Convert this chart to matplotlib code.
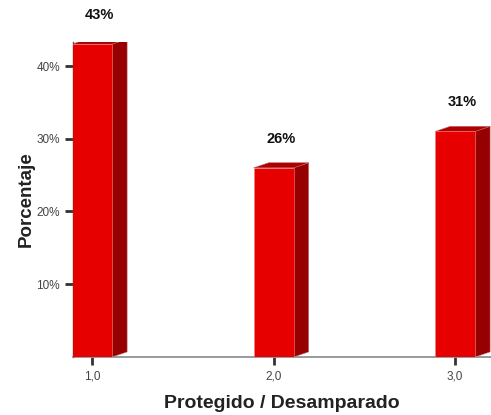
import matplotlib
matplotlib.use("Agg")
import matplotlib.pyplot as plt
from matplotlib.patches import Polygon, Rectangle

# datos
categorias = [1.0, 2.0, 3.0]
etiquetas_x = ["1,0", "2,0", "3,0"]
porcentajes = [43, 26, 31]
ticks_y = [10, 20, 30, 40]
etiquetas_y = ["10%", "20%", "30%", "40%"]

plt.rcParams['font.family'] = ['Liberation Sans', 'DejaVu Sans']

fig = plt.figure(figsize=(4.91, 4.15), dpi=100)
ax = fig.add_axes([0.1487, 0.1398, 0.8513, 0.7590])
ax.set_xlim(0.895, 3.198)
ax.set_ylim(0, 43.3)

ancho = 0.22      # ancho del frente
dx = 0.083        # profundidad en x
dy = 0.7          # profundidad en y (%)

for x, v in zip(categorias, porcentajes):
    x0 = x - ancho / 2
    x1 = x + ancho / 2
    # cara lateral
    ax.add_patch(Polygon([[x1, 0], [x1 + dx, dy], [x1 + dx, v + dy], [x1, v]],
                         closed=True, facecolor="#960000", edgecolor="#c06060",
                         linewidth=0.4, zorder=2))
    # cara superior
    ax.add_patch(Polygon([[x0, v], [x0 + dx, v + dy], [x1 + dx, v + dy], [x1, v]],
                         closed=True, facecolor="#ad0000", edgecolor="#c06060",
                         linewidth=0.4, zorder=2))
    # frente
    ax.add_patch(Rectangle((x0, 0), ancho, v, facecolor="#e60000",
                           edgecolor="#f08080", linewidth=0.4, zorder=3))
    ax.annotate(f"{v}%", (x + dx / 2, v), xytext=(0, 16),
                textcoords="offset points", ha="center", va="bottom",
                fontsize=10.5, fontweight="bold", color="#111111")

ax.set_xticks(categorias)
ax.set_xticklabels(etiquetas_x, fontsize=8.5, color="#444444")
ax.set_yticks(ticks_y)
ax.set_yticklabels(etiquetas_y, fontsize=8.5, color="#444444")
ax.tick_params(axis="both", direction="out", length=6, width=2, color="#333333")

for s in ["top", "right"]:
    ax.spines[s].set_visible(False)
ax.spines["left"].set_color("#555555")
ax.spines["left"].set_linewidth(1)
ax.spines["bottom"].set_color("#888888")
ax.spines["bottom"].set_linewidth(1.2)

ax.set_xlabel("Protegido / Desamparado", fontsize=14, fontweight="bold",
              color="#222222", labelpad=9)
ax.set_ylabel("Porcentaje", fontsize=13.5, fontweight="bold",
              color="#222222", labelpad=1)

fig.savefig("out.png", dpi=100)
